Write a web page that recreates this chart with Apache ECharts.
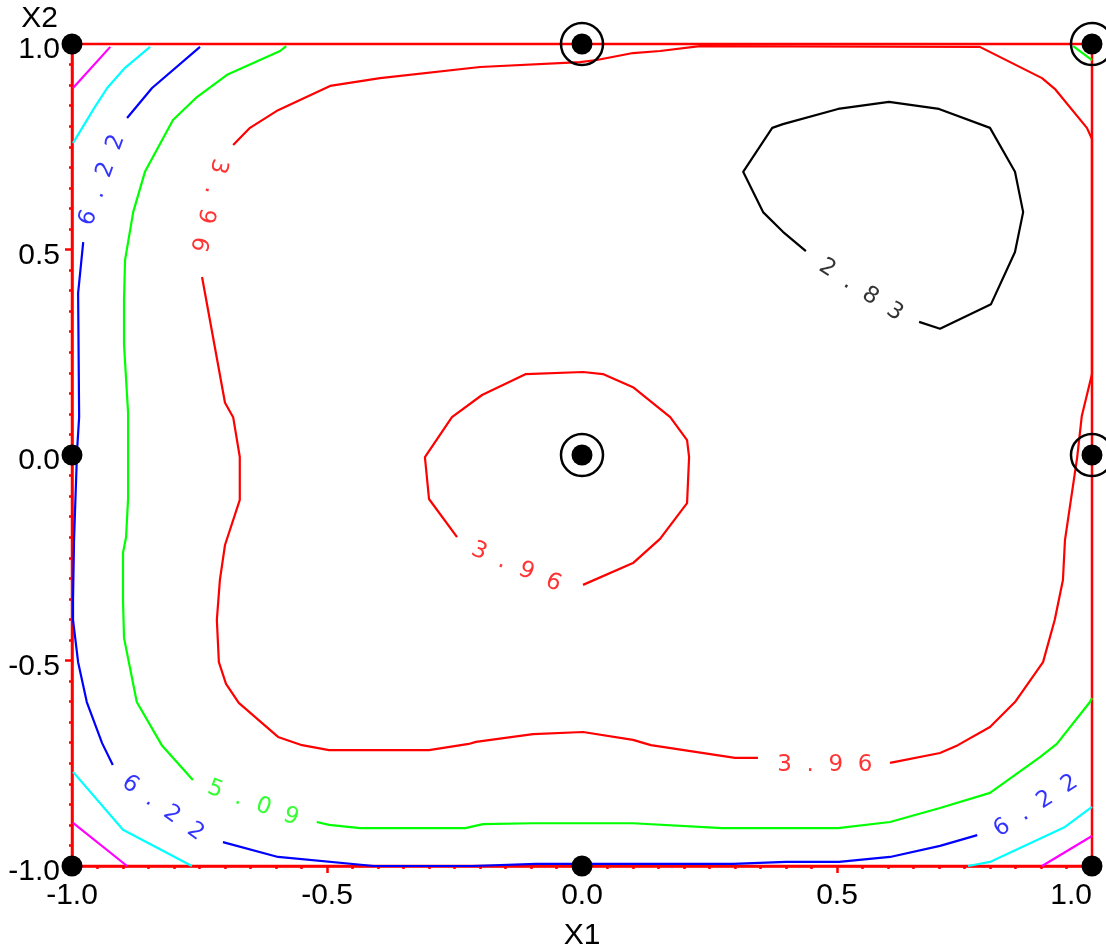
<!DOCTYPE html>
<html>
<head>
<meta charset="utf-8">
<script src="https://cdn.jsdelivr.net/npm/echarts@6/dist/echarts.min.js"></script>
<style>
  html, body { margin: 0; padding: 0; background: #fff; }
  #chart { width: 1106px; height: 948px; }
</style>
</head>
<body>
<div id="chart"></div>
<script>
// contour lines as [X1, X2] pairs
var black283 = [[0.439,0.496],[0.394,0.543],[0.355,0.591],[0.316,0.689],[0.373,0.796],[0.394,0.805],[0.502,0.842],[0.602,0.859],[0.700,0.842],[0.800,0.796],[0.849,0.689],[0.865,0.591],[0.849,0.494],[0.802,0.367],[0.702,0.307],[0.661,0.324]];

var red396Inner = [[-0.245,-0.200],[-0.300,-0.107],[-0.308,-0.005],[-0.255,0.092],[-0.196,0.146],[-0.110,0.197],[0.002,0.202],[0.041,0.197],[0.100,0.165],[0.173,0.092],[0.206,0.036],[0.210,-0.005],[0.206,-0.117],[0.153,-0.204],[0.100,-0.263],[0.002,-0.316]];
var red396Left = [[-0.745,0.433],[-0.700,0.127],[-0.684,0.092],[-0.671,-0.005],[-0.671,-0.109],[-0.700,-0.219],[-0.710,-0.304],[-0.716,-0.401],[-0.712,-0.504],[-0.698,-0.557],[-0.673,-0.603],[-0.596,-0.686],[-0.549,-0.706],[-0.496,-0.718],[-0.300,-0.718],[-0.222,-0.703],[-0.208,-0.698],[-0.096,-0.679],[0.002,-0.674],[0.100,-0.693],[0.135,-0.706],[0.300,-0.737],[0.345,-0.737]];
var red396Right = [[0.604,-0.749],[0.702,-0.725],[0.737,-0.706],[0.800,-0.662],[0.849,-0.601],[0.904,-0.504],[0.927,-0.401],[0.943,-0.304],[0.947,-0.207],[0.971,-0.005],[0.980,0.095],[1.0,0.197],[1.0,0.769],[0.990,0.796],[0.927,0.891],[0.902,0.917],[0.780,0.993],[0.231,0.995],[0.153,0.983],[0.100,0.978],[0.029,0.961],[-0.004,0.956],[-0.200,0.944],[-0.396,0.917],[-0.494,0.898],[-0.596,0.839],[-0.651,0.796],[-0.684,0.754]];

var green509Left = [[-0.580,0.995],[-0.592,0.983],[-0.696,0.925],[-0.755,0.871],[-0.802,0.815],[-0.857,0.689],[-0.880,0.591],[-0.896,0.474],[-0.898,0.377],[-0.898,0.268],[-0.890,0.102],[-0.890,-0.105],[-0.894,-0.200],[-0.900,-0.238],[-0.900,-0.353],[-0.898,-0.445],[-0.873,-0.601],[-0.824,-0.706],[-0.763,-0.791]];
var green509Bottom = [[-0.520,-0.893],[-0.496,-0.900],[-0.435,-0.908],[-0.229,-0.908],[-0.194,-0.898],[-0.096,-0.896],[0.100,-0.896],[0.275,-0.908],[0.502,-0.908],[0.604,-0.893],[0.702,-0.859],[0.800,-0.822],[0.898,-0.735],[0.931,-0.703],[0.996,-0.601],[1.0,-0.591]];
var green509Corner = [[0.963,0.995],[1.0,0.961]];

var blue622Top = [[-0.749,0.993],[-0.843,0.893],[-0.892,0.820]];
var blue622Left = [[-0.978,0.518],[-0.988,0.394],[-0.986,0.092],[-0.990,0.012],[-0.996,-0.207],[-0.998,-0.353],[-0.998,-0.401],[-0.988,-0.504],[-0.971,-0.601],[-0.941,-0.701],[-0.920,-0.754]];
var blue622Bottom = [[-0.704,-0.942],[-0.596,-0.978],[-0.408,-1.0],[-0.216,-1.0],[-0.090,-0.995],[0.296,-0.995],[0.400,-0.990],[0.504,-0.990],[0.604,-0.978],[0.702,-0.951],[0.775,-0.925]];

var cyan735TL = [[-0.998,0.759],[-0.980,0.796],[-0.955,0.847],[-0.931,0.893],[-0.896,0.942],[-0.847,0.993]];
var cyan735BL = [[-0.998,-0.771],[-0.900,-0.912],[-0.765,-1.0]];
var cyan735BR = [[0.757,-1.0],[0.800,-0.990],[0.947,-0.905],[1.0,-0.856]];

var magenta848TL = [[-0.998,0.893],[-0.925,0.993]];
var magenta848BL = [[-0.998,-0.895],[-0.892,-1.0]];
var magenta848BR = [[0.902,-1.0],[1.0,-0.927]];

// contour level labels: text, where it sits, angle along the line
var labelText = ['6  .  2  2', '3  .  9  6', '3  .  9  6', '2  .  8  3', '3  .  9  6', '5  .  0  9', '6  .  2  2', '6  .  2  2'];
var labelX = [-0.941, -0.733, -0.129, 0.547, 0.476, -0.645, -0.822, 0.890];
var labelY = [0.669, 0.608, -0.273, 0.401, -0.754, -0.847, -0.859, -0.854];
var labelAngle = [70, -104, -23, -33, 0, -20, -36, 33];
var labelColor = ['#0000ff', '#ff0000', '#ff0000', '#000000', '#ff0000', '#00ff00', '#0000ff', '#0000ff'];

// design points, and the ones with replicates (ringed)
var designX = [-1, 0, 1, -1, 0, 1, -1, 0, 1];
var designY = [1, 1, 1, 0, 0, 0, -1, -1, -1];
var repX = [0, 1, 0, 1];
var repY = [1, 1, 0, 0];

var tickLabels = ['-1.0', '-0.5', '0.0', '0.5', '1.0'];

function contour(pts, color) {
    return {
        type: 'line',
        data: pts,
        symbol: 'none',
        showSymbol: false,
        silent: true,
        clip: false,
        z: 3,
        lineStyle: {color: color, width: 2.2}
    };
}

function fmt(v) {
    var i = Math.round((v + 1) / 0.5);
    return tickLabels[i] !== undefined ? tickLabels[i] : '';
}

var series = [
    contour(black283, '#000000'),
    contour(red396Inner, '#ff0000'),
    contour(red396Left, '#ff0000'),
    contour(red396Right, '#ff0000'),
    contour(green509Left, '#00ff00'),
    contour(green509Bottom, '#00ff00'),
    contour(green509Corner, '#00ff00'),
    contour(blue622Top, '#0000ff'),
    contour(blue622Left, '#0000ff'),
    contour(blue622Bottom, '#0000ff'),
    contour(cyan735TL, '#00ffff'),
    contour(cyan735BL, '#00ffff'),
    contour(cyan735BR, '#00ffff'),
    contour(magenta848TL, '#ff00ff'),
    contour(magenta848BL, '#ff00ff'),
    contour(magenta848BR, '#ff00ff')
];

// labels on the contours
series.push({
    type: 'scatter',
    symbolSize: 0,
    silent: true,
    clip: false,
    z: 4,
    data: labelText.map(function (t, i) {
        return {
            value: [labelX[i], labelY[i]],
            label: {show: true, formatter: t, rotate: labelAngle[i], color: labelColor[i]}
        };
    }),
    label: {position: 'inside', fontSize: 23, fontFamily: 'DejaVu Sans'}
});

// rings round replicated points
series.push({
    type: 'scatter',
    symbol: 'circle',
    symbolSize: 42,
    silent: true,
    clip: false,
    z: 5,
    data: repX.map(function (x, i) { return [x, repY[i]]; }),
    itemStyle: {color: 'rgba(0,0,0,0)', borderColor: '#000', borderWidth: 2.5, opacity: 1}
});

// design points
series.push({
    type: 'scatter',
    symbol: 'circle',
    symbolSize: 21,
    silent: true,
    clip: false,
    z: 6,
    data: designX.map(function (x, i) { return [x, designY[i]]; }),
    itemStyle: {color: '#000', opacity: 1}
});

var axisCommon = {
    type: 'value',
    min: -1,
    max: 1,
    interval: 0.5,
    nameTextStyle: {fontSize: 30, color: '#000', fontFamily: 'Liberation Sans'},
    axisLine: {show: true, onZero: false, lineStyle: {color: '#ff0000', width: 2.5}},
    axisTick: {show: true, length: 7, lineStyle: {color: '#ff0000', width: 2.5}},
    minorTick: {show: true, splitNumber: 10, length: 3, lineStyle: {color: '#ff0000', width: 2.5}},
    splitLine: {show: false}
};

var chart = echarts.init(document.getElementById('chart'));
chart.setOption({
    animation: false,
    backgroundColor: '#fff',
    grid: {left: 72, right: 14, top: 44, bottom: 82, outerBoundsMode: 'none', containLabel: false,
        show: true, borderColor: '#ff0000', borderWidth: 2.5},
    xAxis: Object.assign({}, axisCommon, {
        name: 'X1',
        nameLocation: 'middle',
        nameGap: 55,
        axisLabel: {fontSize: 30, color: '#000', fontFamily: 'Liberation Sans', margin: 15, formatter: fmt, alignMaxLabel: 'right'}
    }),
    yAxis: Object.assign({}, axisCommon, {
        name: 'X2',
        nameLocation: 'end',
        nameGap: 10,
        nameTextStyle: {fontSize: 30, color: '#000', fontFamily: 'Liberation Sans', align: 'right', padding: [0, 14, 0, 0]},
        axisLabel: {fontSize: 30, color: '#000', fontFamily: 'Liberation Sans', margin: 12, formatter: fmt,
            verticalAlign: 'top', lineHeight: 12}
    }),
    series: series
});
</script>
</body>
</html>
